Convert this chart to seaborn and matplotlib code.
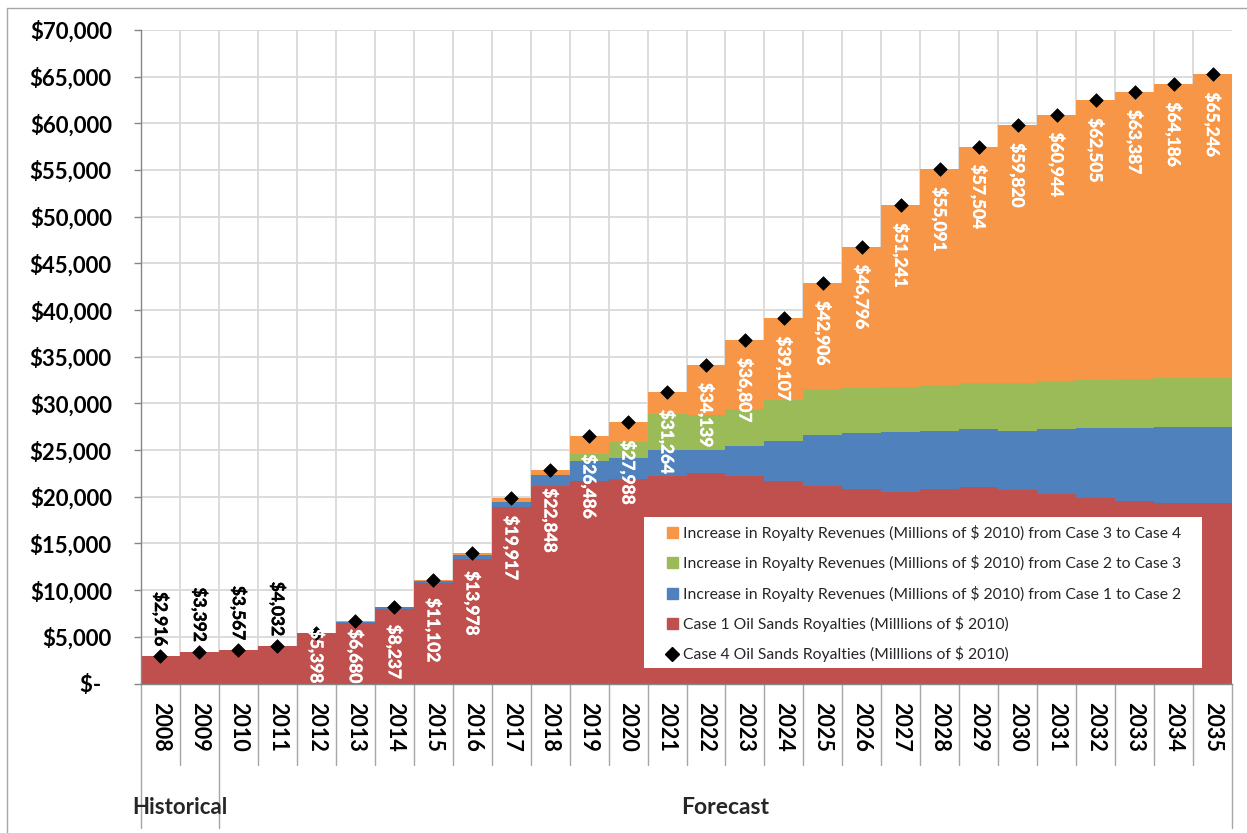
#!/usr/bin/env python3
"""
Oil sands royalties, Case 1 to Case 4 - stacked step chart
"""

import numpy as np
import matplotlib
matplotlib.use('Agg')
import matplotlib.pyplot as plt
import matplotlib.patheffects as pe
from matplotlib.lines import Line2D
from matplotlib.patches import Patch, Rectangle
import seaborn as sns

# Data (millions of 2010 $)
years = [str(y) for y in range(2008, 2036)]
case1 = [2916, 3392, 3567, 4032, 5398, 6450, 7980, 10780, 13340, 18910,
         21170, 21700, 21950, 22270, 22500, 22270, 21700, 21170, 20850, 20560,
         20850, 21060, 20770, 20340, 19900, 19550, 19340, 19340]
inc_1_2 = [0, 0, 0, 0, 0, 170, 220, 200, 430, 540,
           1180, 2150, 2250, 2730, 2500, 3180, 4300, 5460, 6000, 6400,
           6250, 6210, 6330, 6930, 7500, 7850, 8160, 8160]
inc_2_3 = [0, 0, 0, 0, 0, 0, 0, 0, 0, 0,
           0, 750, 1700, 3900, 3800, 3950, 4400, 4920, 4850, 4820,
           4900, 4930, 5100, 5130, 5150, 5200, 5270, 5270]
inc_3_4 = [0, 0, 0, 0, 0, 60, 37, 122, 208, 467,
           498, 1886, 2088, 2364, 5339, 7407, 8707, 11356, 15096, 19461,
           23091, 25304, 27620, 28544, 29955, 30787, 31416, 32476]
case4 = [2916, 3392, 3567, 4032, 5398, 6680, 8237, 11102, 13978, 19917,
         22848, 26486, 27988, 31264, 34139, 36807, 39107, 42906, 46796, 51241,
         55091, 57504, 59820, 60944, 62505, 63387, 64186, 65246]

legend_labels = [
    'Increase in Royalty Revenues (Millions of $ 2010) from Case 3 to Case 4',
    'Increase in Royalty Revenues (Millions of $ 2010) from Case 2 to Case 3',
    'Increase in Royalty Revenues (Millions of $ 2010) from Case 1 to Case 2',
    'Case 1 Oil Sands Royalties (Milllions of $ 2010)',
    'Case 4 Oil Sands Royalties (Milllions of $ 2010)',
]

RED, BLUE, GREEN, ORANGE = '#C0504D', '#4F81BD', '#9BBB59', '#F79646'
layer_colors = [RED, BLUE, GREEN, ORANGE]
GRID = '#d9d9d9'
AXIS = '#868686'


def main():
    sns.set_theme(style='whitegrid')
    plt.rcParams['font.family'] = ['Lato', 'DejaVu Sans']

    fig = plt.figure(figsize=(12.47, 8.33), dpi=100, facecolor='white')
    ax = fig.add_axes([141 / 1247, 1 - 683.5 / 833, 1091 / 1247, 653.5 / 833])
    n = len(years)

    # stacked layers drawn back to front as cumulative bars
    tops = np.cumsum(np.vstack([case1, inc_1_2, inc_2_3, inc_3_4]), axis=0)
    for level in reversed(range(4)):
        sns.barplot(x=years, y=tops[level], color=layer_colors[level], width=1.0,
                    saturation=1, linewidth=0, errorbar=None, ax=ax, zorder=2)

    sns.scatterplot(x=np.arange(n), y=case4, marker='D', color='black', s=48,
                    edgecolor='black', linewidth=0.5, ax=ax, zorder=4, legend=False)

    # grid
    ax.set_axisbelow(True)
    ax.yaxis.grid(True, color=GRID, lw=1.3)
    ax.xaxis.grid(False)
    for b in np.arange(0.5, n - 0.5, 1):
        ax.axvline(b, color=GRID, lw=1.3, zorder=0)

    ax.set_xlim(-0.5, n - 0.5)
    ax.set_ylim(0, 70000)
    ax.set_xlabel('')
    ax.set_ylabel('')

    # y axis
    yt = np.arange(0, 70001, 5000)
    ax.set_yticks(yt)
    ax.set_yticklabels(['$-  ' if v == 0 else f'${v:,}' for v in yt],
                       fontsize=16, fontweight='bold', color='black')
    ax.tick_params(axis='y', left=True, length=5, width=1, color=AXIS, pad=16)

    # x axis (years)
    ax.set_xticks(range(n))
    ax.set_xticklabels(years, rotation=270, fontsize=15.5, fontweight='bold', color='black')
    ax.tick_params(axis='x', bottom=False, length=0, pad=13)

    for side in ['top', 'right']:
        ax.spines[side].set_visible(False)
    for side in ['left', 'bottom']:
        ax.spines[side].set_color(AXIS)
        ax.spines[side].set_linewidth(1)

    # category separators below the axis
    trans = ax.get_xaxis_transform()
    for b in np.arange(-0.5, n, 1):
        end = -0.221 if b in (-0.5, 1.5, n - 0.5) else -0.125
        ax.plot([b, b], [0, end], transform=trans, color='#a6a6a6', lw=1, clip_on=False)
    ax.text(0.5, -0.19, 'Historical', transform=trans, ha='center', va='center',
            fontsize=16, fontweight='bold')
    ax.text((1.5 + n - 0.5) / 2, -0.19, 'Forecast', transform=trans, ha='center',
            va='center', fontsize=16.5, fontweight='bold')

    # data labels
    fig.canvas.draw()
    renderer = fig.canvas.get_renderer()
    ax_bottom = ax.get_window_extent(renderer).y0
    for i, val in enumerate(case4):
        lab = f'${val:,}'
        above = int(years[i]) < 2012
        col = 'black' if above else 'white'
        t = ax.annotate(lab, (i, val), xytext=(0, 7) if above else (0, -13),
                        textcoords='offset points', rotation=270, ha='center',
                        va='bottom' if above else 'top', color=col,
                        fontsize=12.5, fontweight='bold', zorder=5,
                        path_effects=[pe.withStroke(linewidth=0.3, foreground=col)])
        if not above:
            bb = t.get_window_extent(renderer)
            if bb.y0 < ax_bottom:
                t.xyann = (0, -13 + (ax_bottom - bb.y0) * 72 / fig.dpi)

    # legend on a white panel
    ax.add_patch(Rectangle((0.461, 0.0237), 0.5115, 0.231, transform=ax.transAxes,
                           facecolor='white', edgecolor='none', zorder=5))
    handles = [Patch(color=ORANGE), Patch(color=GREEN), Patch(color=BLUE), Patch(color=RED),
               Line2D([], [], marker='D', color='black', linestyle='none', markersize=7)]
    leg = ax.legend(handles, legend_labels, loc='upper left', bbox_to_anchor=(0.4821, 0.2425),
                    frameon=False, fontsize=11.3, handlelength=0.7, handleheight=0.7,
                    handletextpad=0.3, labelspacing=0.91, borderpad=0, borderaxespad=0)
    leg.set_zorder(6)

    # outer chart border
    fig.add_artist(Line2D([7 / 1247, 7 / 1247], [0, 1 - 8 / 833], transform=fig.transFigure,
                          color='#a6a6a6', lw=1))
    fig.add_artist(Line2D([7 / 1247, 1], [1 - 8 / 833, 1 - 8 / 833], transform=fig.transFigure,
                          color='#a6a6a6', lw=1))

    fig.savefig('out.png', dpi=100, facecolor='white')
    plt.close(fig)


if __name__ == "__main__":
    main()
